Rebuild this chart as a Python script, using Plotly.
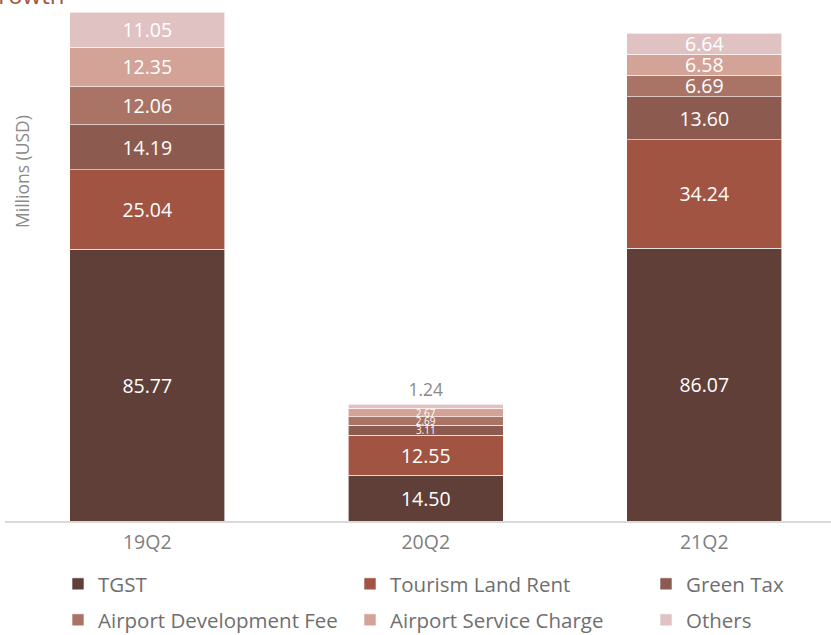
import plotly.graph_objects as go

quarters = ["19Q2", "20Q2", "21Q2"]
tgst = [85.77, 14.50, 86.07]
tourism_land_rent = [25.04, 12.55, 34.24]
green_tax = [14.19, 3.11, 13.60]
airport_dev_fee = [12.06, 2.69, 6.69]
airport_service_charge = [12.35, 2.67, 6.58]
others = [11.05, 1.24, 6.64]

series = [
    ("TGST", tgst, "#5f3f37"),
    ("Tourism Land Rent", tourism_land_rent, "#a05441"),
    ("Green Tax", green_tax, "#8c5a4e"),
    ("Airport Development Fee", airport_dev_fee, "#a97466"),
    ("Airport Service Charge", airport_service_charge, "#d2a396"),
    ("Others", others, "#e0c2c3"),
]

FONT = "Open Sans"
legend_ids = ["legend", "legend2", "legend3", "legend4", "legend5", "legend6"]
# legend positions (pixels in the page): item left x, row centre y
legend_pos = [(58, 584), (350, 584), (646, 584), (58, 620), (350, 620), (646, 620)]

fig = go.Figure()
for i, (name, vals, col) in enumerate(series):
    sizes = [19.5 if v >= 5 else 10 for v in vals]
    positions = ["inside"] * 3
    if name == "Others":
        positions = ["inside" if v >= 5 else "outside" for v in vals]
        sizes = [19.5 if v >= 5 else 17 for v in vals]
    fig.add_trace(go.Bar(
        name=name, x=quarters, y=vals,
        legend=legend_ids[i], showlegend=True,
        marker=dict(color=col, line=dict(color="rgba(255,255,255,0.6)", width=1)),
        text=[f"{v:.2f}" for v in vals],
        textposition=positions,
        insidetextanchor="middle",
        constraintext="none",
        textfont=dict(family=FONT, size=sizes, color="white"),
        outsidetextfont=dict(family=FONT, size=17.5, color="#8a8a8a"),
        cliponaxis=False,
        hoverinfo="skip",
    ))

legends = {}
for lid, (px, py) in zip(legend_ids, legend_pos):
    legends[lid] = dict(
        orientation="h", xref="container", yref="container",
        x=px / 831, y=1 - py / 635, xanchor="left", yanchor="middle",
        font=dict(size=20.5, color="#6f6f6f", family=FONT),
        bgcolor="rgba(0,0,0,0)",
    )

fig.update_layout(
    width=831, height=635,
    showlegend=True,
    barmode="stack", bargap=0.4434,
    margin=dict(l=5, r=0, t=0, b=114, autoexpand=False),
    plot_bgcolor="white", paper_bgcolor="white",
    font=dict(family=FONT, color="#7f7f7f"),
    xaxis=dict(
        range=[-0.5108, 2.455], showline=True, linecolor="#d9d9d9", linewidth=2,
        ticks="", tickfont=dict(size=19.5, color="#7f7f7f", family=FONT),
        ticklabelstandoff=3,
        showgrid=False, zeroline=False,
    ),
    yaxis=dict(range=[0, 164.35], visible=False),
    annotations=[
        dict(text="Millions (USD)", textangle=-90, xref="paper", yref="paper",
             x=17 / 826, y=1 - 172 / 521, xanchor="center", yanchor="middle",
             showarrow=False, font=dict(size=17.5, color="#8a8a8a", family=FONT)),
        dict(text="Revenue Growth", xref="paper", yref="paper",
             x=61 / 826, y=1 - 13 / 521, xanchor="right", yanchor="bottom",
             showarrow=False, font=dict(size=24, color="#a05441", family=FONT)),
    ],
    **legends,
)
fig.write_html(
    "out.html",
    config={"displayModeBar": False},
    post_script="document.body.style.margin='0px';document.body.style.overflow='hidden';",
)
